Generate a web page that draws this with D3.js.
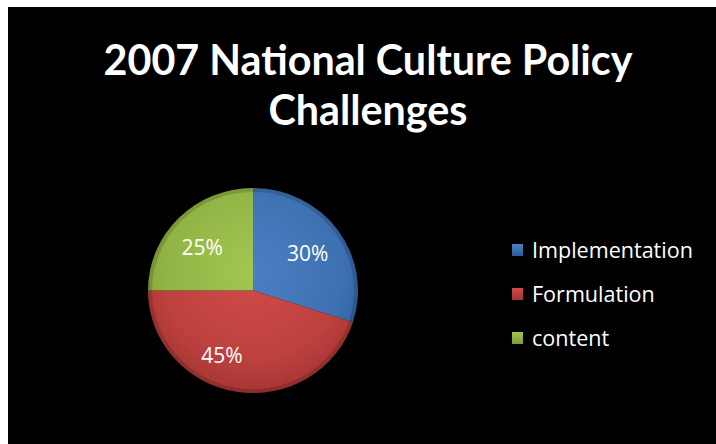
<!DOCTYPE html>
<html>
<head>
<meta charset="utf-8">
<script src="https://cdn.jsdelivr.net/npm/d3@7"></script>
<style>
  html, body { margin: 0; padding: 0; background: #fff; }
  svg { display: block; }
</style>
</head>
<body>
<script>
// chart values
var categories = ["Implementation", "Formulation", "content"];
var values = [30, 45, 25];
var labels = ["30%", "45%", "25%"];
var titleLines = ["2007 National Culture Policy", "Challenges"];

var colors = [
  {top: "#4a80c4", bot: "#2d5c98"},
  {top: "#d24b48", bot: "#a33432"},
  {top: "#a3c653", bot: "#7a9c32"}
];

var W = 716, H = 444;
var svg = d3.select("body").append("svg")
    .attr("width", W)
    .attr("height", H);

// white border strips top/left, black plot area
svg.append("rect").attr("width", W).attr("height", H).attr("fill", "#fff");
svg.append("rect")
    .attr("x", 8).attr("y", 7)
    .attr("width", W - 8).attr("height", H - 7)
    .attr("fill", "#000");

var defs = svg.append("defs");
colors.forEach(function(c, i) {
  var g = defs.append("linearGradient")
      .attr("id", "grad" + i)
      .attr("x1", 0).attr("y1", 0).attr("x2", 0).attr("y2", 1);
  g.append("stop").attr("offset", "0%").attr("stop-color", c.top);
  g.append("stop").attr("offset", "100%").attr("stop-color", c.bot);
  var s = defs.append("radialGradient")
      .attr("id", "slice" + i)
      .attr("gradientUnits", "userSpaceOnUse")
      .attr("cx", 0).attr("cy", -20).attr("r", 130);
  s.append("stop").attr("offset", "0%").attr("stop-color", c.top);
  s.append("stop").attr("offset", "70%").attr("stop-color", d3.interpolateRgb(c.top, c.bot)(0.45));
  s.append("stop").attr("offset", "100%").attr("stop-color", c.bot);
});

// fit a text element to a target width
function fitText(sel, target) {
  var fs = +sel.attr("font-size");
  var w = sel.node().getComputedTextLength();
  sel.attr("font-size", (fs * target / w).toFixed(2));
}

// title
var titleFont = "Lato, 'Open Sans', sans-serif";
var t1 = svg.append("text")
    .attr("x", 368).attr("y", 75)
    .attr("text-anchor", "middle")
    .attr("font-family", titleFont)
    .attr("font-weight", "bold")
    .attr("font-size", 44)
    .attr("fill", "#fff")
    .text(titleLines[0]);
fitText(t1, 529);
svg.append("text")
    .attr("x", 368).attr("y", 125)
    .attr("text-anchor", "middle")
    .attr("font-family", titleFont)
    .attr("font-weight", "bold")
    .attr("font-size", t1.attr("font-size"))
    .attr("fill", "#fff")
    .text(titleLines[1]);

// pie (slightly tilted, like the 3D look of the original)
var cx = 253, cy = 290.5, r = 105;
var pie = d3.pie().sort(null).value(function(d) { return d; });
var arc = d3.arc().innerRadius(0).outerRadius(r);
var labelArc = d3.arc().innerRadius(r * 0.55).outerRadius(r * 0.55);

var g = svg.append("g")
    .attr("transform", "translate(" + cx + "," + cy + ") scale(1,0.976)");

var arcs = pie(values);
g.selectAll("path.slice")
    .data(arcs)
    .enter().append("path")
    .attr("class", "slice")
    .attr("d", arc)
    .attr("fill", function(d, i) { return "url(#slice" + i + ")"; });

// darker rim for the bevel look
g.append("circle")
    .attr("r", r - 2)
    .attr("fill", "none")
    .attr("stroke", "rgba(0,0,0,0.15)")
    .attr("stroke-width", 4);

// best-fit label nudges
var labelOffsets = [[8, -3], [-22, 8], [-10, -2]];
var lblG = svg.append("g")
    .attr("transform", "translate(" + cx + "," + cy + ")");
lblG.selectAll("text.lbl")
    .data(arcs)
    .enter().append("text")
    .attr("class", "lbl")
    .attr("transform", function(d, i) {
      var p = labelArc.centroid(d);
      return "translate(" + (p[0] + labelOffsets[i][0]) + "," + (p[1] + labelOffsets[i][1]) + ")";
    })
    .attr("text-anchor", "middle")
    .attr("dy", "0.36em")
    .attr("font-family", "'Open Sans', sans-serif")
    .attr("font-size", 21)
    .attr("fill", "#fff")
    .text(function(d, i) { return labels[i]; });

// legend
var legend = svg.append("g").attr("transform", "translate(512,244)");
var lg = legend.selectAll("g.item")
    .data(categories)
    .enter().append("g")
    .attr("class", "item")
    .attr("transform", function(d, i) { return "translate(0," + (i * 44) + ")"; });
lg.append("rect")
    .attr("width", 11).attr("height", 12)
    .attr("fill", function(d, i) { return "url(#grad" + i + ")"; });
var lt = lg.append("text")
    .attr("x", 20).attr("y", 6)
    .attr("dy", "0.36em")
    .attr("font-family", "'Open Sans', sans-serif")
    .attr("font-size", 19)
    .attr("fill", "#fff")
    .text(function(d) { return d; });
var imp = d3.select(lt.nodes()[0]);
fitText(imp, 161);
lt.attr("font-size", imp.attr("font-size"));
</script>
</body>
</html>
